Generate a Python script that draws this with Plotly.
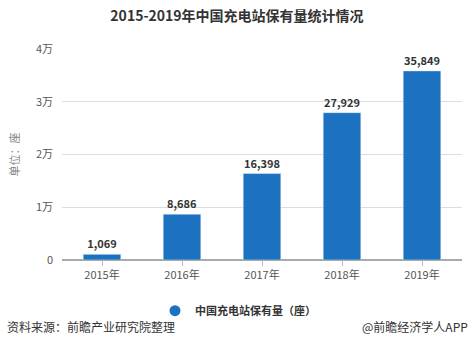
import plotly.graph_objects as go

years = ["2015年", "2016年", "2017年", "2018年", "2019年"]
values = [1069, 8686, 16398, 27929, 35849]
labels = ["<b>1,069</b>", "<b>8,686</b>", "<b>16,398</b>", "<b>27,929</b>", "<b>35,849</b>"]
y_ticks = [0, 10000, 20000, 30000, 40000]
y_ticktext = ["0", "1万", "2万", "3万", "4万"]

FONT = "Noto Sans CJK SC"
BLUE = "#1c72c1"

fig = go.Figure()
fig.add_trace(go.Bar(
    x=years, y=values, text=labels, textposition="outside",
    textfont=dict(size=11, color="#333333", family=FONT),
    marker_color=BLUE, showlegend=False, cliponaxis=False,
    width=0.47,
))
fig.add_trace(go.Scatter(
    x=[None], y=[None], mode="markers", name="<b>中国充电站保有量（座）</b>",
    marker=dict(symbol="circle", size=11, color=BLUE),
))

fig.update_layout(
    width=474, height=351,
    margin=dict(l=62, r=12, t=49, b=91),
    plot_bgcolor="white", paper_bgcolor="white",
    font=dict(family=FONT, size=11, color="#555555"),
    title=dict(text="<b>2015-2019年中国充电站保有量统计情况</b>",
               x=0.5, xanchor="center", y=0.955, yanchor="middle",
               font=dict(size=14, color="#333333", family=FONT)),
    legend=dict(orientation="h", x=0.44, xanchor="center", y=-0.24, yanchor="middle",
                font=dict(size=11, color="#333333", family=FONT)),
    xaxis=dict(showgrid=False, ticks="outside", ticklen=5, tickcolor="#bbbbbb",
               showline=False, tickfont=dict(size=11, color="#555555")),
    yaxis=dict(range=[0, 40000], tickvals=y_ticks, ticktext=y_ticktext,
               showgrid=True, gridcolor="#dddddd", zeroline=True, zerolinecolor="#aaaaaa",
               ticks="", ticklabelstandoff=8,
               tickfont=dict(size=11, color="#555555"),
               title=dict(text="单位：座", font=dict(size=11, color="#888888"), standoff=14)),
    annotations=[
        dict(text="资料来源：前瞻产业研究院整理", xref="paper", yref="paper",
             x=-0.142, y=-0.317, xanchor="left", yanchor="middle", showarrow=False,
             font=dict(size=12, color="#333333", family=FONT)),
        dict(text="@前瞻经济学人APP", xref="paper", yref="paper",
             x=1.02, y=-0.317, xanchor="right", yanchor="middle", showarrow=False,
             font=dict(size=12, color="#333333", family=FONT)),
    ],
)

fig.write_html("out.html")
